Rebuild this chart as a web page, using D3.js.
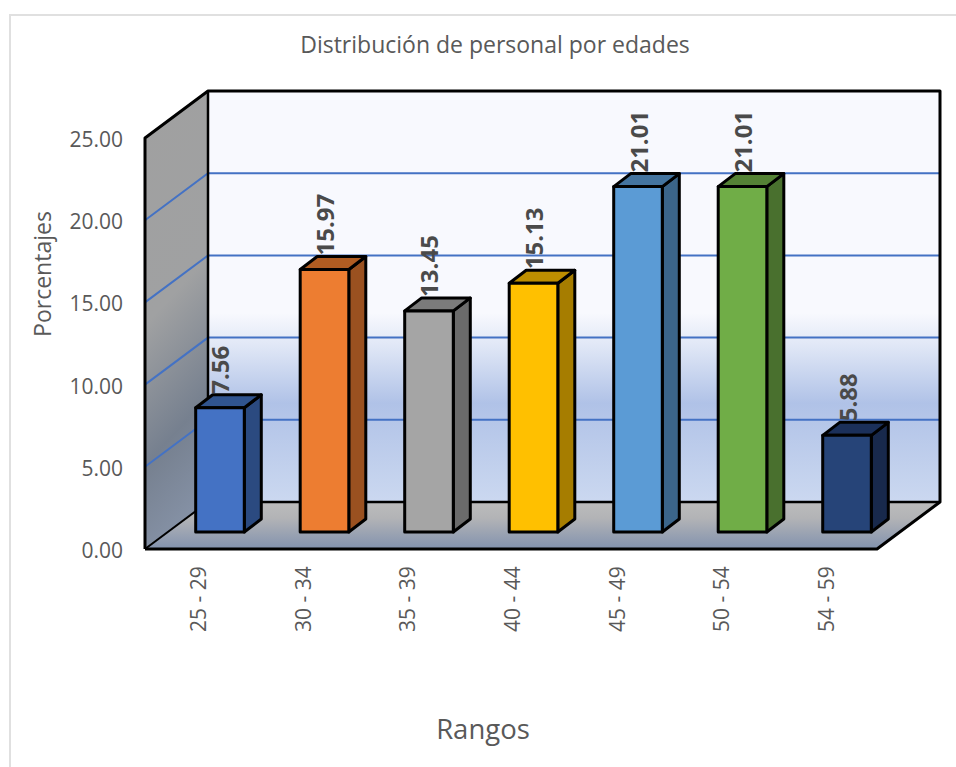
<!DOCTYPE html>
<html><head><meta charset="utf-8">
<script src="https://cdn.jsdelivr.net/npm/d3@7/dist/d3.min.js"></script>
<style>html,body{margin:0;padding:0;background:#fff}svg{display:block}text{font-family:"Open Sans","Noto Sans",sans-serif}</style>
</head><body><svg id="c" width="956" height="767"></svg>
<script>
const categories = ["25 - 29","30 - 34","35 - 39","40 - 44","45 - 49","50 - 54","54 - 59"];
const values = [7.56,15.97,13.45,15.13,21.01,21.01,5.88];
const labels = ["7.56","15.97","13.45","15.13","21.01","21.01","5.88"];
const frontColors = ["#4472c4","#ed7d31","#a5a5a5","#ffc000","#5b9bd5","#70ad47","#264478"];
const sideColors = ["#2b4a80","#9a5120","#6b6b6b","#a67d00","#3b658a","#49702e","#18294c"];
const topColors = ["#30548f","#b05c22","#7b7b7b","#bd8e00","#44749f","#548235","#1b305a"];
const yTicks = [0,5,10,15,20,25];

const svg = d3.select("#c");
const defs = svg.append("defs");
const grad = (id, stops, x2=0, y2=1) => {
  const g = defs.append("linearGradient").attr("id",id).attr("x1",0).attr("y1",0).attr("x2",x2).attr("y2",y2);
  stops.forEach(([o,c]) => g.append("stop").attr("offset",o).attr("stop-color",c));
};
grad("back",[[0,"#f8f9fe"],[0.54,"#f8f9fe"],[0.62,"#e0e7f6"],[0.76,"#b0c2e7"],[1,"#cbd8f0"]]);
grad("wall",[[0,"#a0a0a0"],[0.5,"#a0a1a2"],[0.8,"#76808f"],[1,"#8490a4"]],0.15,1);
grad("floor",[[0,"#bcbcbc"],[0.35,"#b2b3b6"],[1,"#8292ae"]]);

// Plot box and oblique projection
const x0 = 145, x1 = 877, y0 = 549, y25 = 138;
const dx = 63, dy = -47;           // full depth of the box
const barDx = 17, barDy = -13;     // depth of one bar
const inDx = 23, inDy = -17;       // set-back of a bar from the front edge
const x = d3.scaleBand().domain(categories).range([x0,x1-1]).paddingInner(0.535).paddingOuter(0.265);
const y = d3.scaleLinear().domain([0,25]).range([y0,y25]);
const poly = pts => pts.map(p=>p.join(",")).join(" ");

// Outer frame
svg.append("path").attr("d","M10,767V15H956").attr("fill","none").attr("stroke","#e0e0e0").attr("stroke-width",2);

// Back wall, side wall, floor
svg.append("rect").attr("x",x0+dx).attr("y",y(25)+dy).attr("width",x1-x0).attr("height",y0-y25)
  .attr("fill","url(#back)");
svg.append("polygon").attr("points",poly([[x0,y25],[x0+dx,y25+dy],[x0+dx,y0+dy],[x0,y0]])).attr("fill","url(#wall)");
svg.append("polygon").attr("points",poly([[x0,y0],[x0+dx,y0+dy],[x1+dx,y0+dy],[x1,y0]])).attr("fill","url(#floor)");

// Gridlines run along the side wall and across the back
const grid = yTicks.filter(t=>t>0&&t<25);
svg.selectAll("path.grid").data(grid).join("path").attr("class","grid")
  .attr("d",t=>`M${x0},${y(t)}L${x0+dx},${y(t)+dy}H${x1+dx}`)
  .attr("fill","none").attr("stroke","#4472c4").attr("stroke-width",2);

// Box outline
const frame = svg.append("g").attr("fill","none").attr("stroke","#000").attr("stroke-linejoin","round");
frame.append("path").attr("stroke-width",3)
  .attr("d",`M${x0},${y0}V${y25}L${x0+dx},${y25+dy}H${x1+dx}V${y0+dy}L${x1},${y0}H${x0}`);
frame.append("path").attr("stroke-width",2.5)
  .attr("d",`M${x0+dx},${y25+dy}V${y0+dy}H${x1+dx}`);
frame.append("path").attr("stroke-width",2).attr("d",`M${x0},${y0}L${x0+dx},${y0+dy}`);

// Bars
const bars = svg.selectAll("g.bar").data(values).join("g").attr("class","bar")
  .attr("stroke","#000").attr("stroke-width",3).attr("stroke-linejoin","round");
const bw = x.bandwidth();
const left = i => x(categories[i]) + inDx;
const bot = inDy + y0;
const hOf = v => y(0) - y(v);
bars.append("polygon").attr("fill",(d,i)=>sideColors[i])
  .attr("points",(d,i)=>{const l=left(i)+bw,t=bot-hOf(d);return poly([[l,bot],[l+barDx,bot+barDy],[l+barDx,t+barDy],[l,t]]);});
bars.append("polygon").attr("fill",(d,i)=>topColors[i])
  .attr("points",(d,i)=>{const l=left(i),t=bot-hOf(d);return poly([[l,t],[l+barDx,t+barDy],[l+bw+barDx,t+barDy],[l+bw,t]]);});
bars.append("rect").attr("fill",(d,i)=>frontColors[i])
  .attr("x",(d,i)=>left(i)).attr("y",d=>bot-hOf(d)).attr("width",bw).attr("height",d=>hOf(d));

// Value labels, rotated above each bar
svg.selectAll("text.val").data(values).join("text").attr("class","val")
  .attr("transform",(d,i)=>`translate(${left(i)+bw/2+9.5},${bot-hOf(d)+barDy-1}) rotate(-90)`)
  .attr("font-size",24).attr("font-weight",700).attr("fill","#4a4a4a")
  .text((d,i)=>labels[i]);

// Value axis labels
svg.selectAll("text.yt").data(yTicks).join("text").attr("class","yt")
  .attr("x",123).attr("y",t=>y(t)+9).attr("text-anchor","end")
  .attr("font-size",21).attr("fill","#595959").text(t=>d3.format(".2f")(t));

// Category labels
svg.selectAll("text.xt").data(categories).join("text").attr("class","xt")
  .attr("transform",(d)=>`translate(${x(d)+inDx+bw/2-13.5},632) rotate(-90)`)
  .attr("font-size",21).attr("fill","#595959").text(d=>d);

// Titles
svg.append("text").attr("x",495).attr("y",53).attr("text-anchor","middle")
  .attr("font-size",23).attr("fill","#595959").text("Distribución de personal por edades");
svg.append("text").attr("transform","translate(51,274) rotate(-90)").attr("text-anchor","middle")
  .attr("font-size",23).attr("fill","#595959").text("Porcentajes");
svg.append("text").attr("x",483).attr("y",739).attr("text-anchor","middle")
  .attr("font-size",27.5).attr("fill","#595959").text("Rangos");
</script></body></html>
